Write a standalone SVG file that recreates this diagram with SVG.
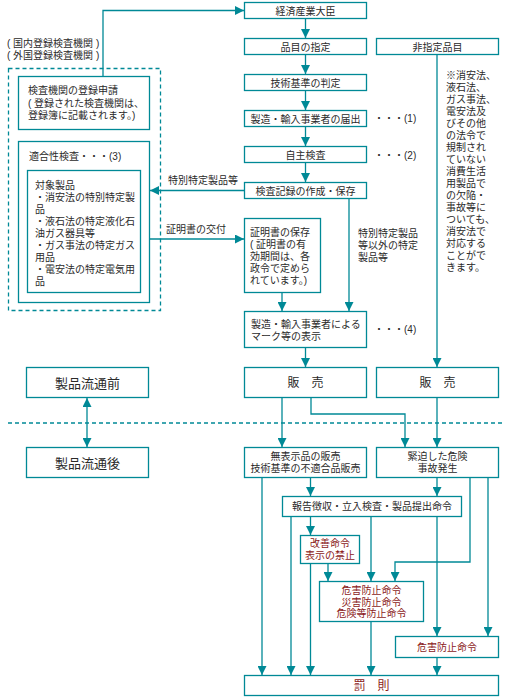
<svg xmlns="http://www.w3.org/2000/svg" width="508" height="698" viewBox="0 0 508 698">
<defs>
<marker id="ah" markerUnits="userSpaceOnUse" markerWidth="9" markerHeight="9" viewBox="0 0 9 9" refX="9" refY="4.5" orient="auto">
<path d="M0,0 L9,4.5 L0,9 z" fill="#008996"/>
</marker>
<marker id="ahs" markerUnits="userSpaceOnUse" markerWidth="9" markerHeight="9" viewBox="0 0 9 9" refX="0" refY="4.5" orient="auto">
<path d="M9,0 L0,4.5 L9,9 z" fill="#008996"/>
</marker>
<style>
rect{fill:#fff;stroke:#008996;stroke-width:1.3}
.dash{fill:none;stroke-dasharray:4 3}
.c path,.c line{fill:none;stroke:#008996;stroke-width:1.3}
.c .a{marker-end:url(#ah)}
text{font-family:"Liberation Sans","Noto Sans CJK JP",sans-serif;font-size:10px;fill:#2a2a2a}
.m{text-anchor:middle}
.r{fill:#8b1a1a}
.big{font-size:13px}
.md{font-size:12px}
</style>
</defs>

<g class="c" id="connectors">
<path class="a" d="M103,76.5 V10.5 H244"/>
<line class="a" x1="305.5" y1="18.5" x2="305.5" y2="38"/>
<line class="a" x1="305.5" y1="54.5" x2="305.5" y2="74"/>
<line class="a" x1="305.5" y1="90.5" x2="305.5" y2="110"/>
<line class="a" x1="305.5" y1="126.5" x2="305.5" y2="146"/>
<line class="a" x1="305.5" y1="162.5" x2="305.5" y2="182"/>
<line class="a" x1="244.5" y1="190.5" x2="150" y2="190.5"/>
<line class="a" x1="149.5" y1="239" x2="244" y2="239"/>
<line class="a" x1="349" y1="198.5" x2="349" y2="311"/>
<line class="a" x1="282" y1="292.5" x2="282" y2="311"/>
<line class="a" x1="305.5" y1="347.5" x2="305.5" y2="367"/>
<line class="a" x1="437" y1="54.5" x2="437" y2="367"/>
<line x1="87" y1="398" x2="87" y2="447" style="marker-start:url(#ahs);marker-end:url(#ah)"/>
<line x1="8" y1="423" x2="502" y2="423" style="stroke-dasharray:4 3"/>
<line class="a" x1="282" y1="397.5" x2="282" y2="447"/>
<path class="a" d="M311,397.5 V414 H405 V447"/>
<line class="a" x1="437" y1="397.5" x2="437" y2="447"/>
<line class="a" x1="310.5" y1="477.5" x2="310.5" y2="496"/>
<line class="a" x1="262" y1="477.5" x2="262" y2="675"/>
<line class="a" x1="437" y1="477.5" x2="437" y2="496"/>
<path class="a" d="M470,477.5 V562 H395 V581"/>
<line class="a" x1="488" y1="477.5" x2="488" y2="636"/>
<line class="a" x1="291" y1="516.5" x2="291" y2="675"/>
<line class="a" x1="310.5" y1="516.5" x2="310.5" y2="535"/>
<line class="a" x1="310.5" y1="563.5" x2="310.5" y2="675"/>
<line class="a" x1="328" y1="563.5" x2="328" y2="581"/>
<line class="a" x1="371" y1="516.5" x2="371" y2="581"/>
<line class="a" x1="437" y1="516.5" x2="437" y2="636"/>
<line class="a" x1="371" y1="621.5" x2="371" y2="675"/>
<line class="a" x1="437" y1="657.5" x2="437" y2="675"/>
</g>

<g id="labels">
<text x="7" y="47">( 国内登録検査機関 )</text>
<text x="7" y="59">( 外国登録検査機関 )</text>
<text x="168" y="184">特別特定製品等</text>
<text x="166" y="233">証明書の交付</text>
<text x="358" y="237">特別特定製品</text>
<text x="358" y="249">等以外の特定</text>
<text x="358" y="261">製品等</text>
<text x="374" y="122">・・・(1)</text>
<text x="374" y="159">・・・(2)</text>
<text x="374" y="333">・・・(4)</text>
</g>

<g id="note">
<text x="446" y="79">※消安法、</text>
<text x="446" y="91">液石法、</text>
<text x="446" y="103">ガス事法、</text>
<text x="446" y="115">電安法及</text>
<text x="446" y="127">びその他</text>
<text x="446" y="139">の法令で</text>
<text x="446" y="151">規制され</text>
<text x="446" y="163">ていない</text>
<text x="446" y="175">消費生活</text>
<text x="446" y="187">用製品で</text>
<text x="446" y="199">の欠陥・</text>
<text x="446" y="211">事故等に</text>
<text x="446" y="223">ついても、</text>
<text x="446" y="235">消安法で</text>
<text x="446" y="247">対応する</text>
<text x="446" y="259">ことがで</text>
<text x="446" y="271">きます。</text>
</g>

<g id="registered-area"><rect class="dash" x="8.5" y="68.5" width="152" height="242"/></g>

<g id="n-minister"><rect x="244.5" y="2.5" width="122" height="16"/><text class="m" x="305.5" y="14.5">経済産業大臣</text></g>
<g id="n-designation"><rect x="244.5" y="38.5" width="122" height="16"/><text class="m" x="305.5" y="50.5">品目の指定</text></g>
<g id="n-nondesignated"><rect x="376.5" y="38.5" width="122" height="16"/><text class="m" x="437.5" y="50.5">非指定品目</text></g>
<g id="n-standard"><rect x="244.5" y="74.5" width="122" height="16"/><text class="m" x="305.5" y="86.5">技術基準の判定</text></g>
<g id="n-notification"><rect x="244.5" y="110.5" width="122" height="16"/><text class="m" x="305.5" y="122.5">製造・輸入事業者の届出</text></g>
<g id="n-selfinspect"><rect x="244.5" y="146.5" width="122" height="16"/><text class="m" x="305.5" y="158.5">自主検査</text></g>
<g id="n-record"><rect x="244.5" y="182.5" width="122" height="16"/><text class="m" x="305.5" y="194.5">検査記録の作成・保存</text></g>

<g id="n-registration"><rect x="18.5" y="76.5" width="131" height="53"/>
<text x="28" y="94">検査機関の登録申請</text>
<text x="28" y="107">( 登録された検査機関は、</text>
<text x="28" y="119">登録簿に記載されます。)</text></g>

<g id="n-conformity"><rect x="18.5" y="141.5" width="131" height="161"/>
<text x="29" y="160">適合性検査・・・(3)</text></g>
<g id="n-products"><rect x="27.5" y="170.5" width="113" height="122"/>
<text x="35" y="189">対象製品</text>
<text x="35" y="201">・消安法の特別特定製</text>
<text x="35" y="213">品</text>
<text x="35" y="225">・液石法の特定液化石</text>
<text x="35" y="237">油ガス器具等</text>
<text x="35" y="249">・ガス事法の特定ガス</text>
<text x="35" y="261">用品</text>
<text x="35" y="273">・電安法の特定電気用</text>
<text x="35" y="285">品</text></g>

<g id="n-certificate"><rect x="244.5" y="218.5" width="76" height="74"/>
<text x="250" y="236">証明書の保存</text>
<text x="250" y="248">( 証明書の有</text>
<text x="250" y="260">効期間は、各</text>
<text x="250" y="272">政令で定めら</text>
<text x="250" y="284">れています。)</text></g>

<g id="n-mark"><rect x="244.5" y="311.5" width="122" height="36"/>
<text x="251" y="328">製造・輸入事業者による</text>
<text x="251" y="340">マーク等の表示</text></g>

<g id="n-before"><rect x="26.5" y="367.5" width="122" height="30"/><text class="m big" x="87.5" y="387.5">製品流通前</text></g>
<g id="n-after"><rect x="26.5" y="447.5" width="122" height="30"/><text class="m big" x="87.5" y="467.5">製品流通後</text></g>
<g id="n-sale1"><rect x="244.5" y="367.5" width="122" height="30"/><text class="m md" x="305.5" y="386.5">販　売</text></g>
<g id="n-sale2"><rect x="376.5" y="367.5" width="122" height="30"/><text class="m md" x="437.5" y="386.5">販　売</text></g>

<g id="n-unlabeled"><rect x="244.5" y="447.5" width="122" height="30"/>
<text class="m" x="305.5" y="460">無表示品の販売</text>
<text class="m" x="305.5" y="472">技術基準の不適合品販売</text></g>
<g id="n-danger"><rect x="376.5" y="447.5" width="122" height="30"/>
<text class="m" x="437.5" y="460">緊迫した危険</text>
<text class="m" x="437.5" y="472">事故発生</text></g>

<g id="n-report"><rect x="282.5" y="496.5" width="179" height="20"/>
<text class="m" x="372" y="510">報告徴収・立入検査・製品提出命令</text></g>

<g id="n-improve"><rect x="300.5" y="535.5" width="59" height="28"/>
<text class="m r" x="330" y="547">改善命令</text>
<text class="m r" x="330" y="559">表示の禁止</text></g>

<g id="n-prevent3"><rect x="319.5" y="581.5" width="104" height="40"/>
<text class="m r" x="371.5" y="594">危害防止命令</text>
<text class="m r" x="371.5" y="605.5">災害防止命令</text>
<text class="m r" x="371.5" y="617">危険等防止命令</text></g>

<g id="n-prevent1"><rect x="395.5" y="636.5" width="103" height="21"/>
<text class="m r" x="447" y="651">危害防止命令</text></g>

<g id="n-penalty"><rect x="244.5" y="675.5" width="254" height="20"/>
<text class="m md r" x="371.5" y="690">罰　則</text></g>
</svg>
